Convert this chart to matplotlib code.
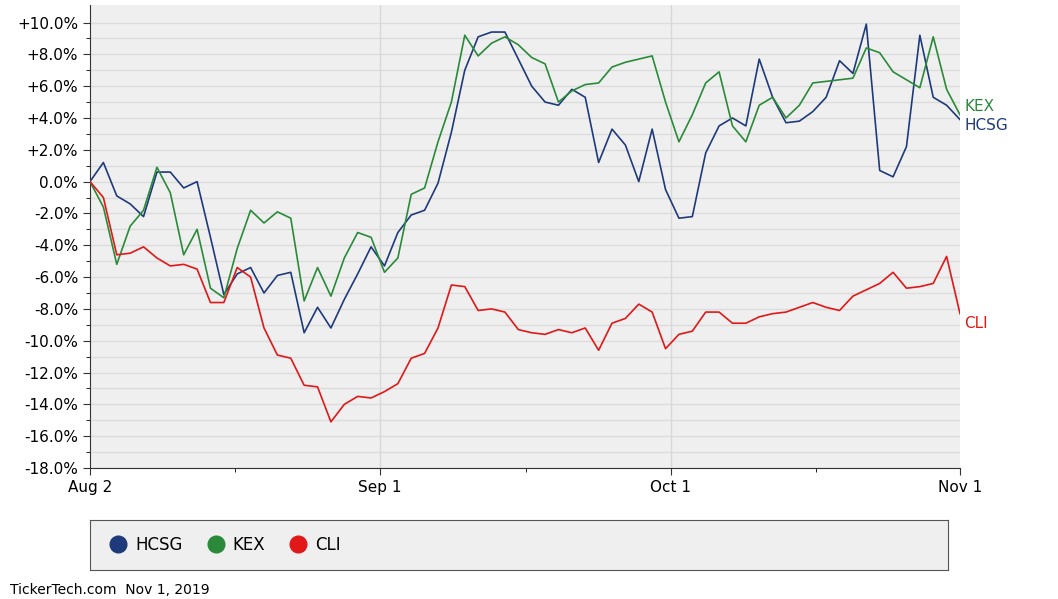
import matplotlib
matplotlib.use("Agg")
import matplotlib.pyplot as plt
from matplotlib.lines import Line2D

hcsg = [0, 1.2, -0.9, -1.4, -2.2, 0.6, 0.6, -0.4, 0, -3.5, -7.1, -5.8, -5.4, -7.0, -5.9, -5.7, -9.5,
        -7.9, -9.2, -7.4, -5.8, -4.1, -5.3, -3.2, -2.1, -1.8, -0.1, 3.1, 7.0, 9.1, 9.4, 9.4, 7.7, 6.0,
        5.0, 4.8, 5.8, 5.3, 1.2, 3.3, 2.3, 0, 3.3, -0.5, -2.3, -2.2, 1.8, 3.5, 4.0, 3.5, 7.7,
        5.3, 3.7, 3.8, 4.4, 5.3, 7.6, 6.8, 9.9, 0.7, 0.3, 2.2, 9.2, 5.3, 4.8, 3.9]
kex = [0, -1.6, -5.2, -2.8, -1.8, 0.9, -0.7, -4.6, -3.0, -6.7, -7.3, -4.2, -1.8, -2.6, -1.9,
       -2.3, -7.5, -5.4, -7.2, -4.8, -3.2, -3.5, -5.7, -4.8, -0.8, -0.4, 2.5, 5.0, 9.2, 7.9,
       8.7, 9.1, 8.6, 7.8, 7.4, 5.0, 5.7, 6.1, 6.2, 7.2, 7.5, 7.7, 7.9, 5.0, 2.5, 4.2, 6.2,
       6.9, 3.5, 2.5, 4.8, 5.3, 4.0, 4.8, 6.2, 6.3, 6.4, 6.5, 8.4, 8.1, 6.9, 6.4, 5.9, 9.1,
       5.8, 4.2]
cli = [0, -1.0, -4.6, -4.5, -4.1, -4.8, -5.3, -5.2, -5.5, -7.6, -7.6, -5.4, -6.0, -9.2, -10.9,
       -11.1, -12.8, -12.9, -15.1, -14.0, -13.5, -13.6, -13.2, -12.7, -11.1, -10.8, -9.2, -6.5,
       -6.6, -8.1, -8.0, -8.2, -9.3, -9.5, -9.6, -9.3, -9.5, -9.2, -10.6, -8.9, -8.6, -7.7,
       -8.2, -10.5, -9.6, -9.4, -8.2, -8.2, -8.9, -8.9, -8.5, -8.3, -8.2, -7.9, -7.6, -7.9,
       -8.1, -7.2, -6.8, -6.4, -5.7, -6.7, -6.6, -6.4, -4.7, -8.3]
names = ["HCSG", "KEX", "CLI"]
colors = ["#1f3a7a", "#2a8a3a", "#e01818"]
tick_labels = ["Aug 2", "Sep 1", "Oct 1", "Nov 1"]
y_ticks = list(range(-18, 11, 2))

W, H = 1058, 599
fig = plt.figure(figsize=(W/100, H/100), dpi=100)
ax = fig.add_axes([90/W, 1-468/H, 870/W, 463/H])
ax.set_facecolor("#efefef")
ax.set_xlim(0, 1)
ax.set_ylim(-18, 11.1)
for v in range(-18, 11):
    ax.axhline(v, color="#dcdcdc", lw=1, zorder=1)
maj = [0, 290/870, 581/870, 1]
for xv in maj[1:3]:
    ax.axvline(xv, color="#d8d8d8", lw=1, zorder=1)
series = [hcsg, kex, cli]
for s, c in zip(series, colors):
    n = len(s)
    xs = [i/(n-1) for i in range(n)]
    ax.plot(xs, s, color=c, lw=1.2, zorder=3)
ax.set_xticks(maj)
ax.set_xticklabels(tick_labels, fontsize=11)
ax.set_xticks([145/870, 436/870, 726/870], minor=True)
ax.set_yticks(y_ticks)
ax.set_yticklabels([("+" if v > 0 else "") + f"{v:.1f}%" for v in y_ticks], fontsize=11)
ax.set_yticks(range(-18, 11), minor=True)
ax.tick_params(axis="both", direction="out", length=5, color="#333")
ax.tick_params(which="minor", length=3)
for sp in ["top", "right"]:
    ax.spines[sp].set_visible(False)
ax.spines["left"].set_color("#333")
ax.spines["bottom"].set_color("#333")
tr = ax.get_yaxis_transform()
ax.text(1.005, kex[-1] + 0.5, "KEX", color=colors[1], fontsize=11, va="center", transform=tr, clip_on=False)
ax.text(1.005, hcsg[-1] - 0.4, "HCSG", color=colors[0], fontsize=11, va="center", transform=tr, clip_on=False)
ax.text(1.005, cli[-1] - 0.6, "CLI", color=colors[2], fontsize=11, va="center", transform=tr, clip_on=False)

lax = fig.add_axes([90/W, 1-570/H, 858/W, 50/H])
lax.set_facecolor("#efefef")
lax.set_xticks([]); lax.set_yticks([])
for sp in lax.spines.values():
    sp.set_color("#555")
handles = [Line2D([], [], marker="o", ls="", color=c, markersize=12) for c in colors]
lax.legend(handles, names, loc="center left", ncol=3, frameon=False, fontsize=12,
           handletextpad=0.0, columnspacing=1.0, borderaxespad=0.3)
fig.text(10/W, 1-590/H, "TickerTech.com  Nov 1, 2019", fontsize=10, va="center")
fig.savefig("out.png", dpi=100)
